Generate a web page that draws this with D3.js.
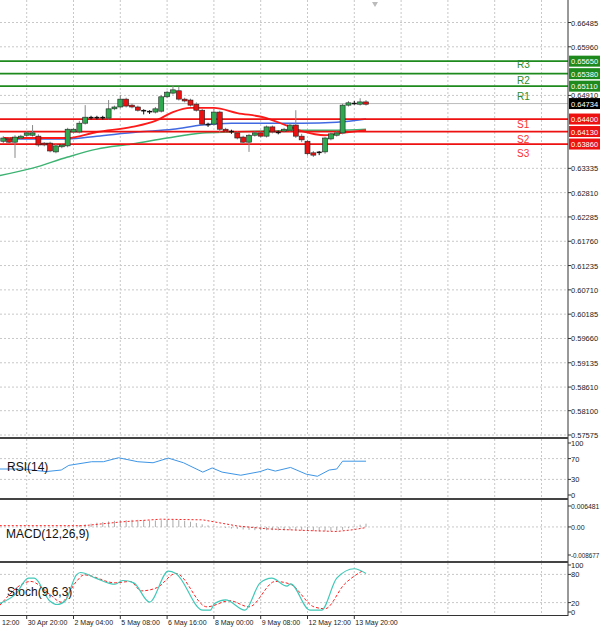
<!DOCTYPE html>
<html><head><meta charset="utf-8">
<script src="https://cdn.jsdelivr.net/npm/d3@7"></script>
<style>body{margin:0;background:#fff}svg{display:block;font-family:"Liberation Sans",Arial,sans-serif}</style>
</head><body><svg id="c" width="600" height="630"></svg>
<script>
// ---- data ----
const opens  = [.6392,.6397,.6390,.6399,.6405,.6405,.6403,.6388,.6388,.6369,.6380,.6382,.6412,.6412,.6431,.6442,.6442,.6444,.6442,.6462,.6466,.6483,.6470,.6466,.6459,.6457,.6455,.6457,.6488,.6496,.6501,.6483,.6481,.6472,.6459,.6429,.6429,.6455,.6418,.6414,.6410,.6401,.6390,.6405,.6410,.6403,.6423,.6412,.6414,.6416,.6427,.6403,.6392,.6367,.6369,.6369,.6397,.6405,.6410,.6470,.6472,.6472,.6477];
const closes = [.6399,.6390,.6401,.6403,.6410,.6410,.6384,.6384,.6371,.6382,.6384,.6418,.6418,.6431,.6444,.6444,.6444,.6442,.6462,.6466,.6483,.6468,.6466,.6459,.6457,.6455,.6462,.6488,.6498,.6503,.6483,.6479,.6470,.6459,.6429,.6427,.6455,.6418,.6414,.6412,.6399,.6390,.6405,.6410,.6403,.6423,.6412,.6410,.6418,.6427,.6403,.6395,.6365,.6362,.6367,.6399,.6408,.6410,.6470,.6475,.6475,.6477,.6472];
const highs  = [.6403,.6401,.6405,.6406,.6413,.6427,.6407,.6390,.6391,.6386,.6388,.6421,.6421,.6436,.6470,.6447,.6447,.6447,.6481,.6469,.6492,.6486,.6473,.6469,.6461,.6459,.6466,.6492,.6501,.6513,.6510,.6486,.6484,.6476,.6462,.6432,.6462,.6458,.6421,.6417,.6413,.6404,.6408,.6413,.6413,.6426,.6426,.6415,.6421,.6430,.6459,.6408,.6395,.6371,.6371,.6401,.6411,.6413,.6473,.6479,.6479,.6485,.6481];
const lows   = [.6388,.6387,.6356,.6396,.6402,.6402,.6380,.6381,.6368,.6366,.6377,.6379,.6409,.6409,.6428,.6439,.6439,.6439,.6439,.6459,.6463,.6465,.6463,.6456,.6450,.6451,.6452,.6454,.6485,.6493,.6480,.6476,.6467,.6456,.6426,.6423,.6426,.6410,.6411,.6408,.6396,.6386,.6369,.6402,.6400,.6400,.6409,.6407,.6411,.6413,.6399,.6390,.6361,.6358,.6362,.6365,.6394,.6402,.6407,.6467,.6471,.6469,.6469];
const maRedIdx  = [0,11,16,22,26,29,32,36,40,45,47,51,55,58,62];
const maRedVal  = [.6399,.6399,.6412,.6423,.6436,.6455,.6464,.6464,.6453,.6442,.6433,.6414,.6405,.6410,.6416];
const maBlueIdx = [0,11,16,23,29,34,39,45,51,57,62];
const maBlueVal = [.6397,.6397,.6403,.6412,.6418,.6427,.6431,.6431,.6431,.6433,.6440];
const maGreenIdx= [-1,5,11,16,22,28,34,39,45,51,57,62];
const maGreenVal= [.6317,.6334,.6358,.6375,.6386,.6399,.6410,.6412,.6414,.6416,.6416,.6418];
const levelNames = ["R3","R2","R1","S1","S2","S3"];
const levelVals  = [0.6565,0.6538,0.6511,0.6440,0.6413,0.6386];
const currentPrice = 0.64734;
const priceTicks = [0.66485,0.65960,0.64910,0.63335,0.62810,0.62285,0.61760,0.61235,0.60710,0.60185,0.59660,0.59135,0.58610,0.58100,0.57575];
const timeLabels = ["12:00","30 Apr 20:00","2 May 04:00","5 May 08:00","6 May 16:00","8 May 00:00","9 May 08:00","12 May 12:00","13 May 20:00"];
const timeIdx    = [-4,4,12,20,28,36,44,52,60];
const rsiIdx = [-0.6,3.4,7.3,9.9,11.2,15.1,17.1,19.7,23,25.6,28.2,30.8,34.1,35.7,37.4,40.6,43.9,45.2,46.5,49.1,51.8,53.7,55.7,57,58,62];
const rsiVal = [50,50,45,48,57,64,64,71.6,64,62,71,62,44,52,44,38,45,50,46,53,40,36,48,50,65,65];
const macdHist = [0,0,-0.0001,0,0,0.0001,0,-0.0001,-0.0002,-0.0001,0,0.0002,0.0004,0.0006,0.0008,0.0010,0.0013,0.0015,0.0017,0.0019,0.0020,0.0021,0.0022,0.0022,0.0021,0.0020,0.0020,0.0021,0.0022,0.0022,0.0021,0.0019,0.0016,0.0012,0.0008,0.0005,0.0002,-0.0001,-0.0003,-0.0005,-0.0006,-0.0008,-0.0009,-0.0010,-0.0010,-0.0010,-0.0010,-0.0011,-0.0011,-0.0010,-0.0010,-0.0011,-0.0012,-0.0013,-0.0014,-0.0013,-0.0012,-0.0011,-0.0009,-0.0004,0.0002,0.0007,0.0010];
const macdSigIdx = [-0.6,13.8,20.4,26.9,34.1,40,45.2,51.8,57,59.6,62];
const macdSigVal = [0.0004,0.0004,0.0016,0.0024,0.0022,0.0003,-0.0006,-0.0011,-0.0014,-0.0009,-0.0002];
const stMainIdx = [-0.6,2.1,4.3,5.3,7.9,9.2,10.6,12.5,13.2,15.8,19.1,20.4,22.3,25,28.2,29.5,34.1,35.4,36.1,38,41.3,43.9,45.9,48.5,49.1,52.4,54.4,57,60,62];
const stMainVal = [18,38,72,72,24,16,24,79,84,72,59,67,62,21,87,82,4,4,18,26,4,62,72,55,60,4,4,72,92,82];
const stSigIdx = [-0.6,4.7,7.9,9.9,12.5,13.8,19.1,21.7,23.6,26.3,29.5,34.8,38.7,42,46.5,49.1,53.1,55,58.3,61.6];
const stSigVal = [14,65,38,21,65,79,62,65,45,52,82,11,24,11,65,59,11,7,59,89];

// ---- layout ----
const svg = d3.select("#c");
const AX = 568;
const x = d3.scaleLinear().domain([0,62]).range([3.3,3.3+62*5.85]);
const y = d3.scaleLinear().domain([0.57575,0.66485]).range([435,22.5]);
const gridC = "#c8c8c8";
const lineP = d3.line().x(d=>x(d[0])).y(d=>d[1]);

const vg = d3.range(-4,100,8).map(i=>x(i)).filter(v=>v>0&&v<AX);
function vgrid(y0,y1){vg.forEach(v=>svg.append("line").attr("x1",v).attr("x2",v).attr("y1",y0).attr("y2",y1).attr("stroke",gridC).attr("stroke-dasharray","2,2"));}
function hgrid(yy){svg.append("line").attr("x1",0).attr("x2",AX).attr("y1",yy).attr("y2",yy).attr("stroke",gridC).attr("stroke-dasharray","2,2");}
function rlabel(t,yy,fs){svg.append("text").attr("x",571).attr("y",yy+3).attr("font-size",fs||7.5).attr("fill","#222").text(t);
  svg.append("line").attr("x1",AX).attr("x2",AX+3).attr("y1",yy).attr("y2",yy).attr("stroke","#333");}

// main panel
vgrid(0,435);
priceTicks.forEach(p=>{hgrid(y(p)); rlabel(p.toFixed(5),y(p));});
svg.append("line").attr("x1",0).attr("x2",AX).attr("y1",y(currentPrice)).attr("y2",y(currentPrice)).attr("stroke","#bbb");

const main = svg.append("g");
function maLine(idx,val,col,w){
  main.append("path").attr("d",d3.line().curve(d3.curveMonotoneX).x(d=>x(d[0])).y(d=>y(d[1]))(idx.map((v,i)=>[v,val[i]])))
   .attr("fill","none").attr("stroke",col).attr("stroke-width",w);
}
maLine(maGreenIdx,maGreenVal,"#3cb371",1.5);
maLine(maBlueIdx,maBlueVal,"#4169e1",1.5);
maLine(maRedIdx,maRedVal,"#ff1a1a",1.8);

levelVals.forEach((v,i)=>{
  const col = i<3?"#1e8a1e":"#ee1111";
  main.append("line").attr("x1",0).attr("x2",AX).attr("y1",y(v)).attr("y2",y(v)).attr("stroke",col).attr("stroke-width",1.8);
});
const lblY=[64,80,96,124,139,153];
levelNames.forEach((n,i)=>{
  main.append("text").attr("x",517).attr("y",lblY[i]+4).attr("font-size",10).attr("fill",i<3?"#2e8b2e":"#ff3030").text(n);
});

closes.forEach((c,i)=>{
  const o=opens[i], cx=x(i);
  main.append("line").attr("x1",cx).attr("x2",cx).attr("y1",y(highs[i])).attr("y2",y(lows[i])).attr("stroke",Math.abs(c-o)<0.00035?"#111":"#888").attr("stroke-width",1);
  const top=y(Math.max(o,c)), bot=y(Math.min(o,c));
  if(bot-top<1.5){
    main.append("line").attr("x1",cx-2.5).attr("x2",cx+2.5).attr("y1",(top+bot)/2).attr("y2",(top+bot)/2).attr("stroke","#111").attr("stroke-width",1.5);
  } else {
    main.append("rect").attr("x",cx-2.5).attr("y",top).attr("width",5).attr("height",bot-top)
      .attr("fill",c>o?"#2fa84f":"#e81010").attr("stroke","#222").attr("stroke-width",0.6);
  }
});

function box(v,col,t){const yy=y(v);svg.append("rect").attr("x",AX+1).attr("y",yy-5.5).attr("width",31).attr("height",11).attr("fill",col);
  svg.append("text").attr("x",571).attr("y",yy+3).attr("font-size",7.5).attr("fill","#fff").text(t);}
levelVals.forEach((v,i)=>box(v,i<3?"#1e8a1e":"#ee1111",v.toFixed(5)));
box(currentPrice,"#000",currentPrice.toFixed(5));

svg.append("path").attr("d","M372,2 L378,2 L375,7 Z").attr("fill","#bbb");

function sep(yy){svg.append("rect").attr("x",0).attr("y",yy).attr("width",AX).attr("height",2).attr("fill","#444");}
svg.append("line").attr("x1",AX).attr("x2",AX).attr("y1",0).attr("y2",616).attr("stroke","#333");

// RSI panel
const yr = d3.scaleLinear().domain([0,100]).range([495,443]);
sep(437);
vgrid(439,498);
[70,30].forEach(v=>hgrid(yr(v)));
[100,70,30,0].forEach(v=>rlabel(v,yr(v)));
svg.append("path").attr("d",lineP(rsiIdx.map((v,i)=>[v,yr(rsiVal[i])]))).attr("fill","none").attr("stroke","#3d95e6").attr("stroke-width",1);
svg.append("text").attr("x",7).attr("y",471).attr("font-size",12).attr("fill","#111").text("RSI(14)");

// MACD panel
const ym = d3.scaleLinear().domain([-0.008677,0.006481]).range([555,506]);
sep(498);
vgrid(500,561);
hgrid(ym(0));
rlabel("0.006481",ym(0.006481),6.8); rlabel("0.00",ym(0),7); rlabel("-0.008677",ym(-0.008677),6.3);
macdHist.forEach((v,i)=>svg.append("line").attr("x1",x(i)).attr("x2",x(i)).attr("y1",ym(0)).attr("y2",ym(v)).attr("stroke","#aaa"));
svg.append("path").attr("d",lineP(macdSigIdx.map((v,i)=>[v,ym(macdSigVal[i])]))).attr("fill","none").attr("stroke","#ff2020").attr("stroke-dasharray","2,2");
svg.append("text").attr("x",6).attr("y",538).attr("font-size",12).attr("fill","#111").text("MACD(12,26,9)");

// Stoch panel
const ys = d3.scaleLinear().domain([0,100]).range([612,565]);
sep(561);
vgrid(563,615);
[80,20].forEach(v=>hgrid(ys(v)));
[100,80,20,0].forEach(v=>rlabel(v,ys(v)));
svg.append("path").attr("d",d3.line().curve(d3.curveMonotoneX).x(d=>x(d[0])).y(d=>d[1])(stSigIdx.map((v,i)=>[v,ys(stSigVal[i])]))).attr("fill","none").attr("stroke","#ff2020").attr("stroke-dasharray","3,2");
svg.append("path").attr("d",d3.line().curve(d3.curveMonotoneX).x(d=>x(d[0])).y(d=>d[1])(stMainIdx.map((v,i)=>[v,ys(stMainVal[i])]))).attr("fill","none").attr("stroke","#40c8b8").attr("stroke-width",1.2);
svg.append("text").attr("x",7).attr("y",596).attr("font-size",12).attr("fill","#111").text("Stoch(9,6,3)");

// time axis
svg.append("line").attr("x1",0).attr("x2",AX).attr("y1",615.5).attr("y2",615.5).attr("stroke","#333");
timeLabels.forEach((t,k)=>{
  const xx=x(timeIdx[k]);
  if(k===0){svg.append("text").attr("x",2).attr("y",625).attr("font-size",7).attr("fill","#222").text(t);return;}
  svg.append("line").attr("x1",xx).attr("x2",xx).attr("y1",615).attr("y2",619).attr("stroke","#333");
  svg.append("text").attr("x",xx+1).attr("y",625).attr("font-size",7).attr("fill","#222").text(t);
});
</script></body></html>
